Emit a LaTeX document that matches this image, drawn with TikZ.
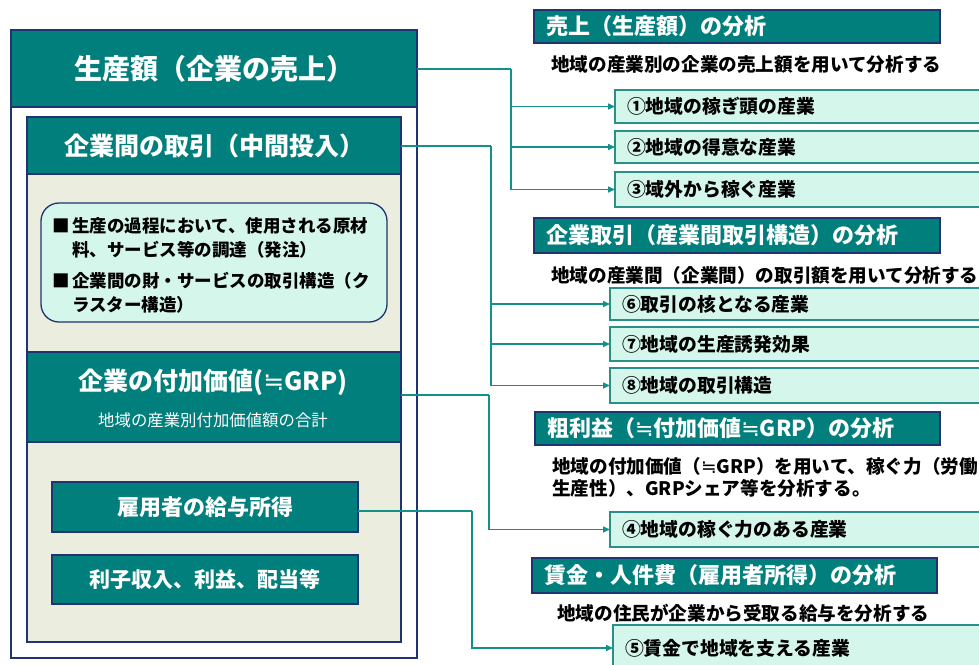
\documentclass[tikz,border=0pt]{standalone}
\usepackage{fontspec}
\setmainfont{Noto Sans CJK JP}
\newfontfamily\symfont{DejaVu Sans}[BoldFont={DejaVu Sans}]
\newcommand\nearlyeq{{\symfont ≒}}
\usetikzlibrary{arrows.meta}
\definecolor{tealc}{HTML}{007F7D}
\definecolor{navyc}{HTML}{1F3470}
\definecolor{beigec}{HTML}{EBEEDF}
\definecolor{mintc}{HTML}{D5F6EA}
\definecolor{connc}{HTML}{12908A}
\definecolor{itemb}{HTML}{2A9088}
\begin{document}
\begin{tikzpicture}[x=1pt,y=-1pt,
  panel/.style={draw=navyc, line width=1.3pt, inner sep=0pt, outer sep=0pt, anchor=north west},
  tealbox/.style={panel, fill=tealc, text=white, font=\bfseries},
  hdr/.style={tealbox, line width=1.8pt, inner xsep=12pt, align=left, font=\bfseries\fontsize{22}{26}\selectfont},
  itembox/.style={draw=itemb, fill=mintc, line width=1.6pt, inner xsep=12pt, inner ysep=0pt, outer sep=0pt, anchor=north west, align=left, font=\bfseries\fontsize{18.8}{22}\selectfont},
  desc/.style={anchor=west, inner sep=0pt, font=\bfseries\fontsize{18.6}{22}\selectfont},
  conn/.style={draw=connc, line width=1.5pt},
  arr/.style={conn, -{Triangle[length=7pt,width=6pt]}}]
\useasboundingbox (0,0) rectangle (979,664);
\clip (0,0) rectangle (979,664);
\fill[white] (0,0) rectangle (979,664);

% ---- left panel ----
\node[panel, fill=white, minimum width=406pt, minimum height=628pt] (outer) at (11,30) {};
\node[tealbox, minimum width=406pt, minimum height=77pt, font=\bfseries\fontsize{28}{32}\selectfont] (sales) at (11,30) {生産額（企業の売上）};
\node[panel, fill=beigec, minimum width=374pt, minimum height=525pt] (inner) at (27,117) {};
\node[tealbox, minimum width=374pt, minimum height=57pt, font=\bfseries\fontsize{25}{29}\selectfont] (trade) at (27,117) {企業間の取引（中間投入）};
\node[panel, fill=mintc, rounded corners=18pt, minimum width=346pt, minimum height=119pt] (bul) at (41,203) {};
\node[anchor=north west, inner sep=0pt, align=left, font=\bfseries\fontsize{17.5}{24}\selectfont] (bultext) at (52,217)
  {\makebox[20pt][l]{■}生産の過程において、使用される原材\\
   \hspace*{20pt}料、サービス等の調達（発注）\\[7pt]
   \makebox[20pt][l]{■}企業間の財・サービスの取引構造（ク\\
   \hspace*{20pt}ラスター構造）};
\node[tealbox, minimum width=374pt, minimum height=90pt] (grp) at (27,352) {};
\node[text=white, font=\bfseries\fontsize{25}{29}\selectfont, inner sep=0pt] (grptitle) at (213,382) {企業の付加価値(\nearlyeq GRP)};
\node[text=white, font=\fontsize{16.4}{19}\selectfont, inner sep=0pt] (grpsub) at (213,420) {地域の産業別付加価値額の合計};
\node[tealbox, minimum width=306pt, minimum height=50pt, font=\bfseries\fontsize{22}{26}\selectfont] (emp) at (52,482) {雇用者の給与所得};
\node[tealbox, minimum width=306pt, minimum height=49pt, font=\bfseries\fontsize{21}{25}\selectfont] (intr) at (52,555) {利子収入、利益、配当等};

% ---- right: sales analysis ----
\node[hdr, minimum width=406pt, minimum height=33pt, text width=382pt] (h1) at (534,10) {売上（生産額）の分析};
\node[desc] (d1) at (551,64) {地域の産業別の企業の売上額を用いて分析する};
\node[itembox, minimum width=385pt, minimum height=33pt, text width=361pt] (i1) at (615,90) {①地域の稼ぎ頭の産業};
\node[itembox, minimum width=385pt, minimum height=32pt, text width=361pt] (i2) at (615,131) {②地域の得意な産業};
\node[itembox, minimum width=385pt, minimum height=35pt, text width=361pt] (i3) at (615,172) {③域外から稼ぐ産業};

% ---- right: trade analysis ----
\node[hdr, minimum width=406pt, minimum height=35pt, text width=382pt] (h2) at (534,218) {企業取引（産業間取引構造）の分析};
\node[desc] (d2) at (551,275) {地域の産業間（企業間）の取引額を用いて分析する};
\node[itembox, minimum width=390pt, minimum height=32pt, text width=366pt] (i6) at (610,288) {⑥取引の核となる産業};
\node[itembox, minimum width=390pt, minimum height=34pt, text width=366pt] (i7) at (610,327) {⑦地域の生産誘発効果};
\node[itembox, minimum width=390pt, minimum height=35pt, text width=366pt] (i8) at (610,368) {⑧地域の取引構造};

% ---- right: GRP analysis ----
\node[hdr, minimum width=405pt, minimum height=33pt, text width=381pt] (h3) at (535,412) {粗利益（\nearlyeq 付加価値\nearlyeq GRP）の分析};
\node[desc, anchor=north west, align=left] (d3) at (552,457)
  {地域の付加価値（\nearlyeq GRP）を用いて、稼ぐ力（労働\\生産性）、GRPシェア等を分析する。};
\node[itembox, minimum width=390pt, minimum height=35pt, text width=366pt] (i4) at (610,512) {④地域の稼ぐ力のある産業};

% ---- right: wage analysis ----
\node[hdr, minimum width=405pt, minimum height=35pt, text width=381pt] (h4) at (532,558) {賃金・人件費（雇用者所得）の分析};
\node[desc] (d4) at (557,613) {地域の住民が企業から受取る給与を分析する};
\node[itembox, minimum width=387pt, minimum height=46pt, text width=363pt] (i5) at (613,625) {⑤賃金で地域を支える産業};

% ---- connectors ----
\coordinate (j1) at (511,69);
\coordinate (j2) at (491,146);
\coordinate (j3) at (489,395);
\coordinate (j4) at (472,511);
\draw[conn] (sales.east |- j1) -- (j1);
\draw[arr] (j1) |- (i1.west);
\draw[arr] (j1) |- (i2.west);
\draw[arr] (j1) |- (i3.west);
\draw[conn] (trade.east |- j2) -- (j2);
\draw[arr] (j2) |- (i6.west);
\draw[arr] (j2) |- (i7.west);
\draw[arr] (j2) |- (i8.west);
\draw[conn] (grp.east |- j3) -- (j3);
\draw[arr] (j3) |- (i4.west);
\draw[conn] (emp.east |- j4) -- (j4);
\draw[arr] (j4) |- (i5.west);
\end{tikzpicture}
\end{document}
